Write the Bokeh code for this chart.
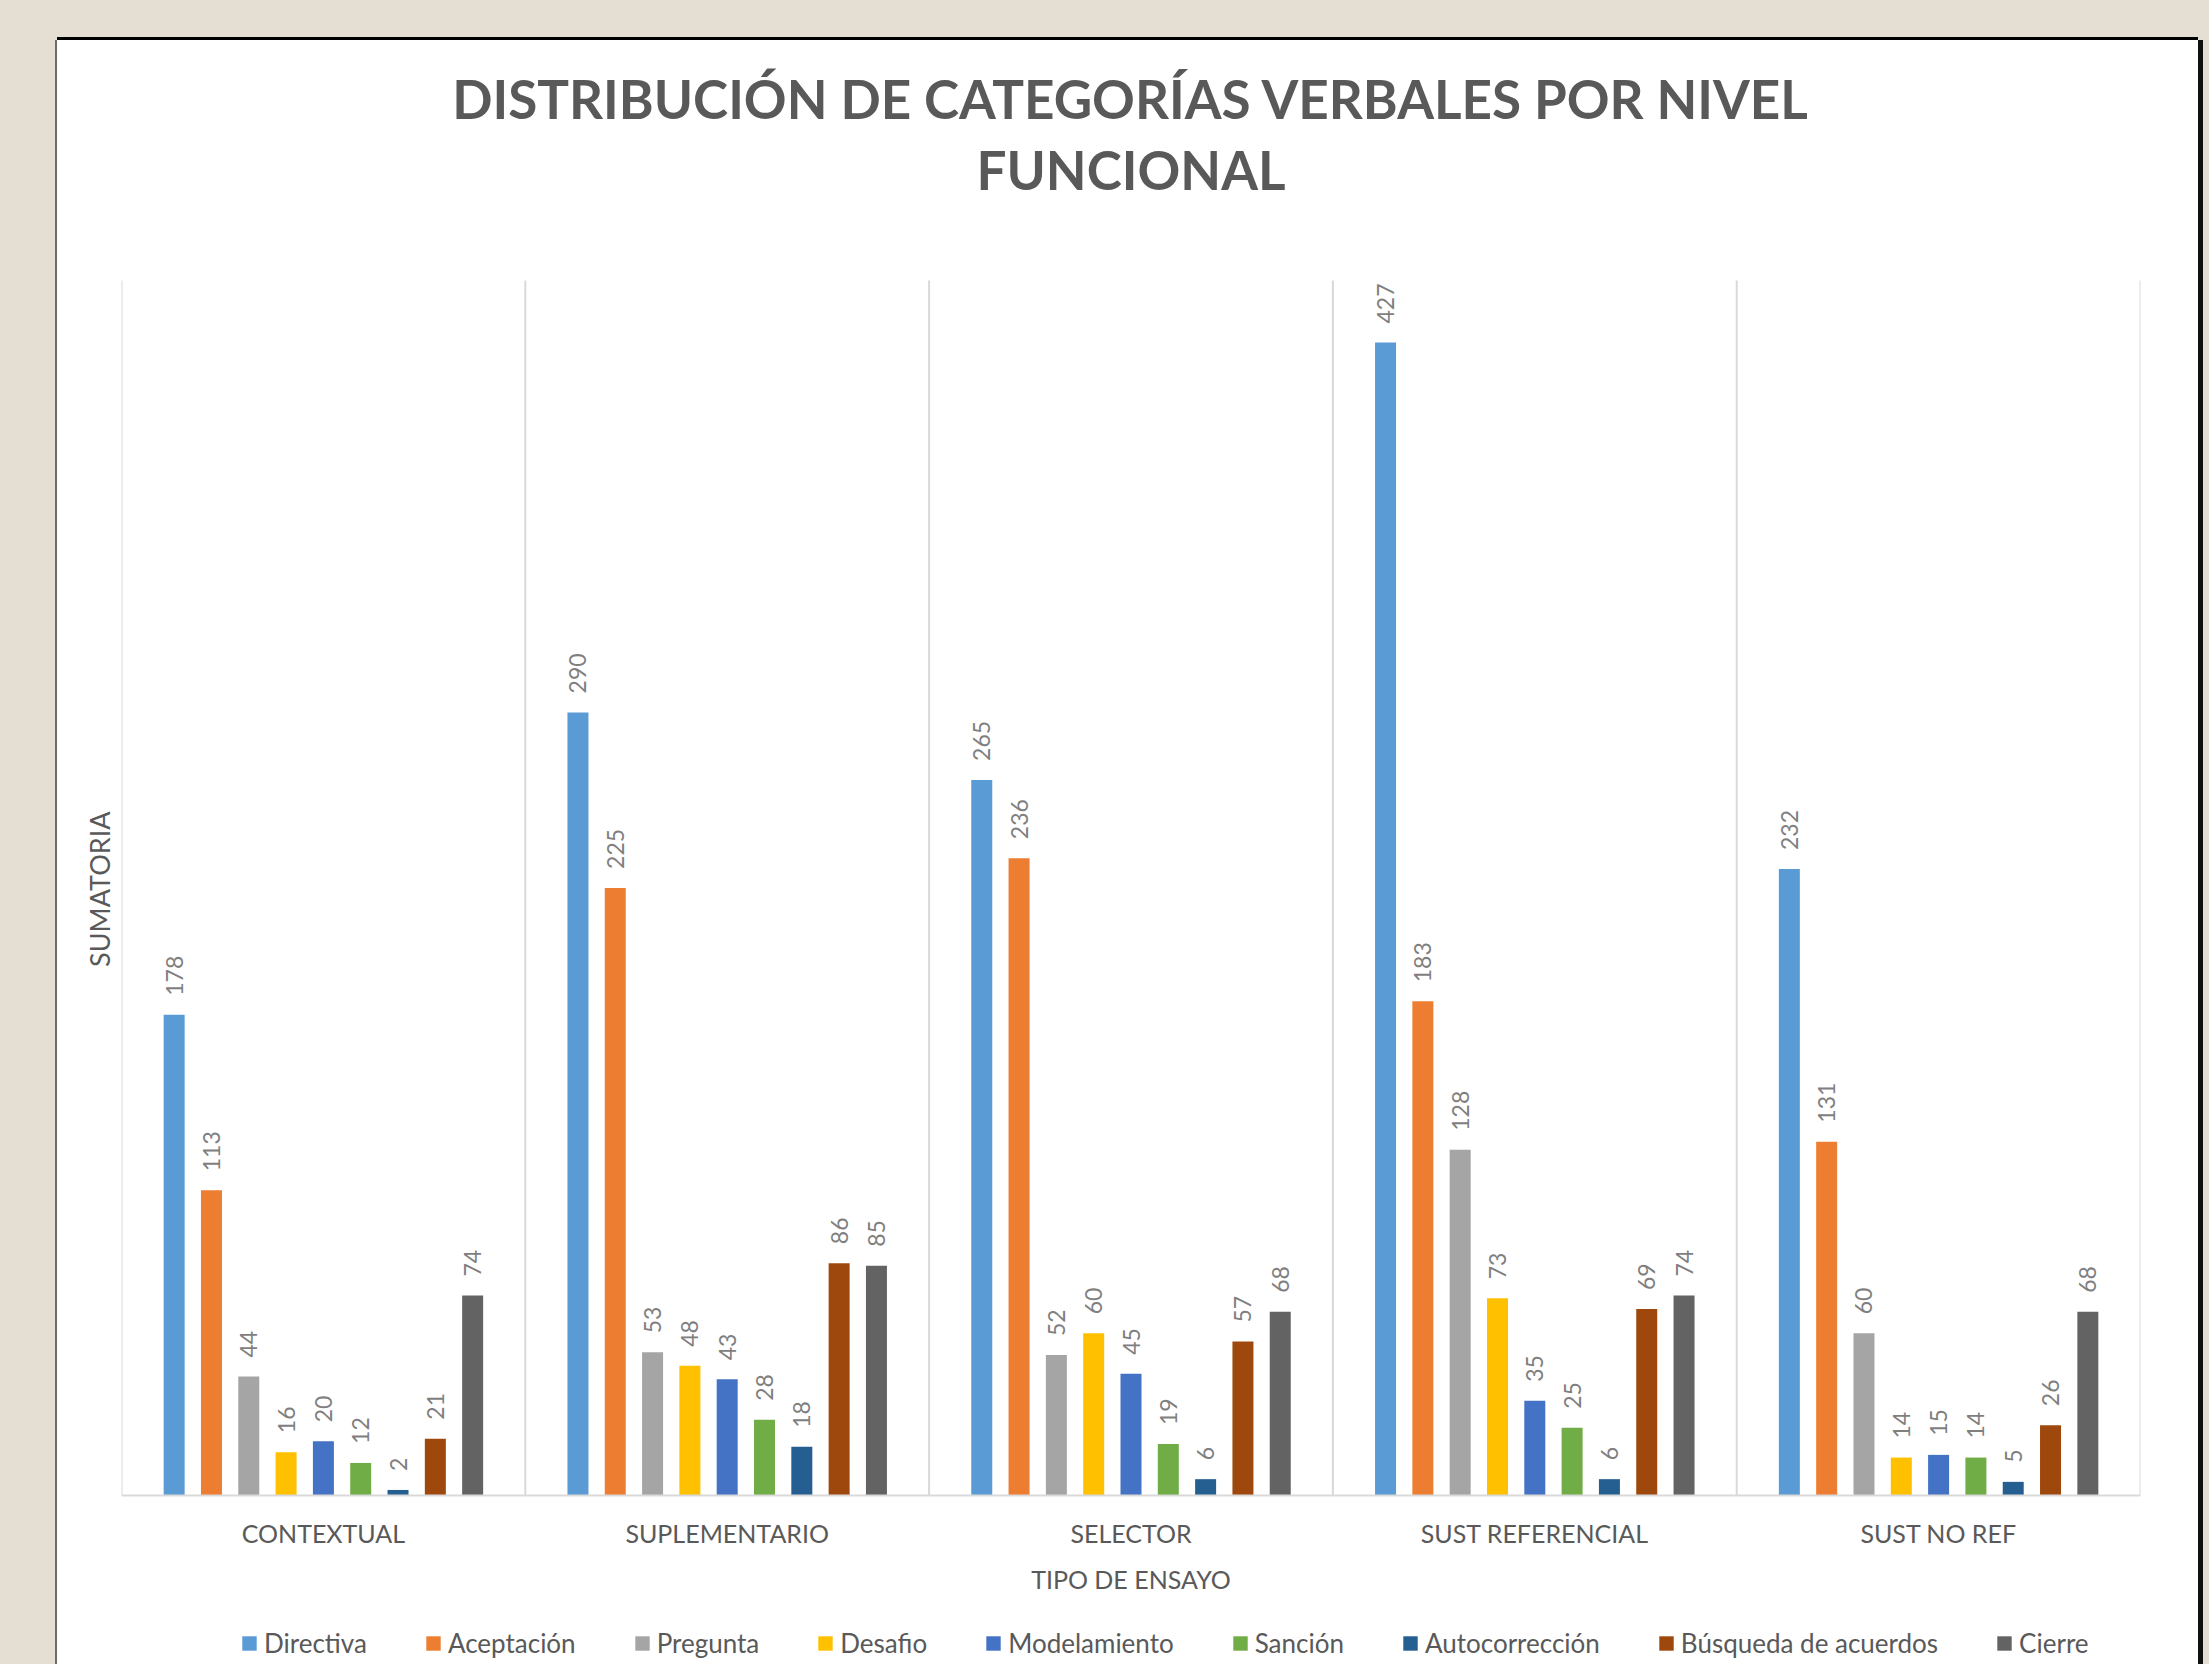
import math
from bokeh.plotting import figure
from bokeh.models import (ColumnDataSource, FactorRange, Range1d, FixedTicker, Title, Legend,
                          LegendItem)
from bokeh.transform import dodge
from bokeh.core.properties import value
from bokeh.embed import file_html
from bokeh.resources import INLINE

# ---------------- data ----------------
categories = ["CONTEXTUAL", "SUPLEMENTARIO", "SELECTOR", "SUST REFERENCIAL", "SUST NO REF"]
series_names = ["Directiva", "Aceptación", "Pregunta", "Desafio", "Modelamiento",
                "Sanción", "Autocorrección", "Búsqueda de acuerdos", "Cierre"]
directiva = [178, 290, 265, 427, 232]
aceptacion = [113, 225, 236, 183, 131]
pregunta = [44, 53, 52, 128, 60]
desafio = [16, 48, 60, 73, 14]
modelamiento = [20, 43, 45, 35, 15]
sancion = [12, 28, 19, 25, 14]
autocorreccion = [2, 18, 6, 6, 5]
busqueda = [21, 86, 57, 69, 26]
cierre = [74, 85, 68, 74, 68]
series_values = [directiva, aceptacion, pregunta, desafio, modelamiento,
                 sancion, autocorreccion, busqueda, cierre]
colors = ["#5B9BD5", "#ED7D31", "#A5A5A5", "#FFC000", "#4472C4",
          "#70AD47", "#255E91", "#9E480E", "#636363"]
title_line1 = "DISTRIBUCIÓN DE CATEGORÍAS VERBALES POR NIVEL"
title_line2 = "FUNCIONAL"
x_title = "TIPO DE ENSAYO"
y_title = "SUMATORIA"
y_max = 450

# visible window of the value axis (frame also hosts axis labels and legend below 0)
y_lo, y_hi = -90.8, 478.5

FONT = "Lato"
TXT = "#595959"

p = figure(
    x_range=FactorRange(*categories), y_range=Range1d(y_lo, y_hi),
    width=2141, height=1700, title=None,
    output_backend="svg", toolbar_location=None,
    min_border_left=64, min_border_right=58, min_border_top=163, min_border_bottom=0,
    background_fill_color="white", border_fill_color="white", outline_line_color=None,
    margin=(40, 0, 0, 57),
    styles={"background-color": "#FFFFFF",
            "box-shadow": "0 -3px 0 0 #000000, 5px 0 0 0 #111111, -2px 0 0 0 #6b6b6b"},
)

p.add_layout(Title(text=title_line2, align="center", text_font=FONT, text_font_style="bold",
                   text_font_size="53px", text_color=TXT, standoff=6), "above")
p.add_layout(Title(text=title_line1, align="center", text_font=FONT, text_font_style="bold",
                   text_font_size="53px", text_color=TXT, standoff=6), "above")

# value-axis title (vertical), centred on the 0..y_max span
p.add_layout(Title(text=y_title, align="right", offset=608, text_font=FONT,
                   text_font_style="normal", text_font_size="27px", text_color=TXT,
                   standoff=12), "left")

p.xgrid.visible = False
p.ygrid.visible = False

# category boundary lines
bsrc = ColumnDataSource(dict(cat=categories, y0=[0] * len(categories), y1=[y_max] * len(categories)))
p.segment(x0=dodge("cat", -0.5, range=p.x_range), x1=dodge("cat", -0.5, range=p.x_range),
          y0="y0", y1="y1", source=bsrc, line_color="#D9D9D9", line_width=2)
lsrc = ColumnDataSource(dict(cat=categories[-1:], y0=[0], y1=[y_max]))
p.segment(x0=dodge("cat", 0.5, range=p.x_range), x1=dodge("cat", 0.5, range=p.x_range),
          y0="y0", y1="y1", source=lsrc, line_color="#D9D9D9", line_width=2)

data = dict(cat=categories)
for i, vals in enumerate(series_values):
    data[f"v{i}"] = vals
    data[f"l{i}"] = [str(v) for v in vals]
src = ColumnDataSource(data)

step = 0.0924
bar_w = 0.052
items = []
n = len(series_names)
for i, (name, col) in enumerate(zip(series_names, colors)):
    off = (i - (n - 1) / 2) * step
    r = p.vbar(x=dodge("cat", off, range=p.x_range), top=f"v{i}", width=bar_w, source=src,
               fill_color=col, line_color=None)
    p.text(x=dodge("cat", off, range=p.x_range), y=f"v{i}", text=f"l{i}", source=src,
           angle=math.pi / 2, text_align="left", text_baseline="middle", y_offset=-19,
           text_font=value(FONT), text_font_size="23px", text_color="#7F7F7F")
    items.append(LegendItem(label=name, renderers=[r]))

# x axis pinned to the value 0
xa = p.xaxis[0]
xa.fixed_location = 0
xa.axis_line_color = "#D9D9D9"
xa.axis_line_width = 2
xa.major_tick_line_color = None
xa.minor_tick_line_color = None
xa.major_tick_out = 0
xa.major_tick_in = 0
xa.major_label_text_font = FONT
xa.major_label_text_font_size = "25px"
xa.major_label_text_color = TXT
xa.major_label_standoff = 23
xa.axis_label = x_title
xa.axis_label_text_font = FONT
xa.axis_label_text_font_style = "normal"
xa.axis_label_text_font_size = "25px"
xa.axis_label_text_color = TXT
xa.axis_label_standoff = 12

ya = p.yaxis[0]
ya.ticker = FixedTicker(ticks=[])
ya.visible = False

legend = Legend(items=items, orientation="horizontal", location=(119, 81),
                label_text_font=FONT, label_text_font_size="26px", label_text_color=TXT,
                glyph_width=18, glyph_height=18, label_standoff=6, spacing=57,
                padding=0, margin=0, border_line_color=None, background_fill_alpha=0)
p.add_layout(legend, "center")

html = file_html(p, INLINE, title="Distribución de categorías verbales")
html = html.replace("</head>",
                    "<style>html,body{background:#E4DED3;margin:0;overflow:hidden;}</style></head>", 1)
open("out.html", "w").write(html)
